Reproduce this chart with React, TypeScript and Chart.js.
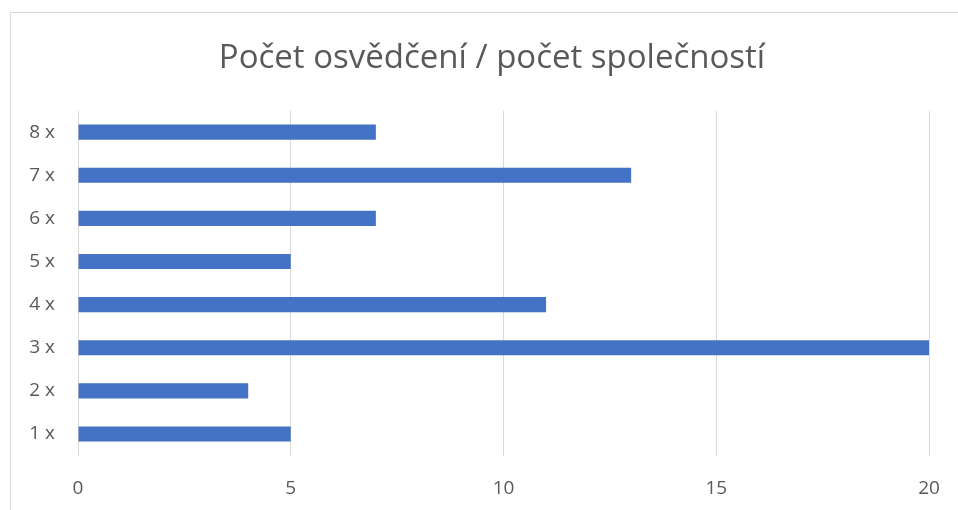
import React, { useEffect, useRef } from "react";
import { Chart, registerables } from "chart.js";

Chart.register(...registerables);

const categories = ["1 x", "2 x", "3 x", "4 x", "5 x", "6 x", "7 x", "8 x"];
const values = [5, 4, 20, 11, 5, 7, 13, 7];
const titleText = "Počet osvědčení / počet společností";

export default function App() {
  const ref = useRef<HTMLCanvasElement | null>(null);

  useEffect(() => {
    document.body.style.margin = "0";
    const canvas = ref.current!;
    const centerTitle = {
      id: "centerTitle",
      afterLayout(chart: any) {
        const tb = chart.titleBlock;
        if (tb) {
          tb.left = 10;
          tb.right = 974;
        }
      },
    };
    const chart = new Chart(canvas, {
      type: "bar",
      data: {
        labels: categories,
        datasets: [
          {
            data: values,
            backgroundColor: "#4472c4",
            borderWidth: 0,
            categoryPercentage: 1,
            barPercentage: 0.35,
          },
        ],
      },
      options: {
        indexAxis: "y",
        responsive: false,
        animation: false,
        devicePixelRatio: 1,
        layout: { padding: { left: 0, right: 29, top: 0, bottom: 0 } },
        plugins: {
          legend: { display: false },
          tooltip: { enabled: false },
          title: {
            display: true,
            text: titleText,
            color: "#595959",
            font: { family: "Open Sans", size: 33, weight: "normal" },
            padding: { top: 39, bottom: 32 },
          },
        },
        scales: {
          x: {
            min: 0,
            max: 20,
            ticks: {
              stepSize: 5,
              color: "#595959",
              font: { family: "Open Sans", size: 19 },
              padding: 22,
            },
            grid: { color: "#d9d9d9", lineWidth: 1, drawTicks: false },
            border: { display: false },
            afterFit: (scale: any) => {
              scale.height = 54.5;
              scale.paddingLeft = 0;
              scale.paddingRight = 0;
            },
          },
          y: {
            reverse: true,
            ticks: {
              color: "#595959",
              font: { family: "Open Sans", size: 19 },
              padding: 15,
            },
            grid: { display: false },
            border: { display: false },
            afterFit: (scale: any) => {
              scale.width = 78;
            },
          },
        },
      },
      plugins: [centerTitle],
    });
    return () => chart.destroy();
  }, []);

  return (
    <div style={{ position: "relative", width: 958, height: 510, overflow: "hidden", background: "#fff" }}>
      <div
        style={{
          position: "absolute",
          left: 10,
          top: 12,
          width: 1000,
          height: 600,
          border: "1px solid #d9d9d9",
          boxSizing: "border-box",
        }}
      />
      <canvas ref={ref} width={958} height={510} style={{ position: "absolute", left: 0, top: 0 }} />
    </div>
  );
}
